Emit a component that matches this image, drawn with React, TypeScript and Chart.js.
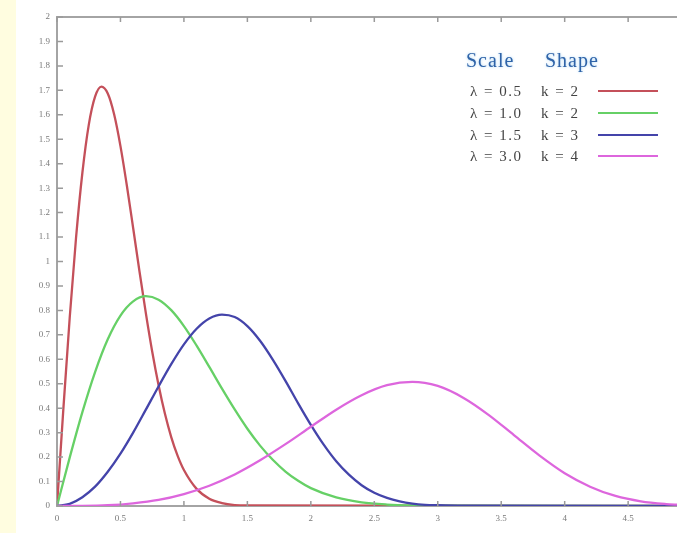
import React, { useEffect, useRef } from "react";
import { Chart, registerables } from "chart.js";

Chart.register(...registerables);

const X_TICKS = [0, 0.5, 1, 1.5, 2, 2.5, 3, 3.5, 4, 4.5];
const Y_TICKS = [0, 0.1, 0.2, 0.3, 0.4, 0.5, 0.6, 0.7, 0.8, 0.9, 1, 1.1, 1.2, 1.3, 1.4, 1.5, 1.6, 1.7, 1.8, 1.9, 2];

const RED_X = [0, 0.05, 0.1, 0.15, 0.2, 0.25, 0.3, 0.35, 0.4, 0.45, 0.5, 0.55, 0.6, 0.65, 0.7, 0.75, 0.8, 0.85, 0.9, 0.95, 1.0, 1.1, 1.2, 1.3, 1.4, 1.5, 4.9];
const RED_Y = [0, 0.396, 0.769, 1.097, 1.363, 1.558, 1.674, 1.715, 1.687, 1.602, 1.472, 1.312, 1.137, 0.959, 0.789, 0.632, 0.495, 0.378, 0.282, 0.206, 0.147, 0.07, 0.03, 0.012, 0.004, 0.002, 0];

const GREEN_X = [0, 0.1, 0.2, 0.3, 0.4, 0.5, 0.6, 0.7, 0.8, 0.9, 1.0, 1.1, 1.2, 1.3, 1.4, 1.5, 1.6, 1.7, 1.8, 1.9, 2.0, 2.2, 2.4, 2.6, 2.8, 3.0, 4.9];
const GREEN_Y = [0, 0.198, 0.384, 0.548, 0.682, 0.779, 0.837, 0.858, 0.844, 0.801, 0.736, 0.656, 0.569, 0.48, 0.395, 0.316, 0.247, 0.189, 0.141, 0.103, 0.073, 0.035, 0.015, 0.006, 0.002, 0.001, 0];

const BLUE_X = [0, 0.1, 0.2, 0.3, 0.4, 0.5, 0.6, 0.7, 0.8, 0.9, 1.0, 1.1, 1.2, 1.3, 1.4, 1.5, 1.6, 1.7, 1.8, 1.9, 2.0, 2.1, 2.2, 2.3, 2.4, 2.5, 2.6, 2.7, 2.8, 2.9, 3.0, 3.2, 4.9];
const BLUE_Y = [0, 0.009, 0.036, 0.079, 0.14, 0.214, 0.3, 0.394, 0.489, 0.58, 0.661, 0.725, 0.767, 0.783, 0.773, 0.736, 0.676, 0.599, 0.512, 0.42, 0.332, 0.252, 0.183, 0.128, 0.085, 0.054, 0.033, 0.019, 0.01, 0.005, 0.003, 0.001, 0];

const MAGENTA_X = [0, 0.2, 0.4, 0.6, 0.8, 1.0, 1.2, 1.4, 1.6, 1.8, 2.0, 2.2, 2.4, 2.6, 2.8, 3.0, 3.2, 3.4, 3.6, 3.8, 4.0, 4.2, 4.4, 4.6, 4.8, 4.9];
const MAGENTA_Y = [0, 0.0004, 0.003, 0.011, 0.025, 0.049, 0.083, 0.129, 0.187, 0.253, 0.324, 0.394, 0.453, 0.494, 0.508, 0.491, 0.443, 0.373, 0.29, 0.207, 0.134, 0.079, 0.041, 0.019, 0.008, 0.005];

const SCALES = ["λ = 0.5", "λ = 1.0", "λ = 1.5", "λ = 3.0"];
const SHAPES = ["k = 2", "k = 2", "k = 3", "k = 4"];
const COLORS = ["#c4505a", "#66d066", "#4444aa", "#dd66dd"];

const pts = (xs: number[], ys: number[]) => xs.map((x, i) => ({ x, y: ys[i] }));

const AXIS = "#a4a4a4";

const tickPlugin = {
  id: "inwardTicks",
  afterDraw(chart: any) {
    const { ctx, chartArea } = chart;
    const xs = chart.scales.x;
    const ys = chart.scales.y;
    ctx.save();
    ctx.strokeStyle = AXIS;
    ctx.lineWidth = 2;
    ctx.beginPath();
    ctx.moveTo(chartArea.left, chartArea.top);
    ctx.lineTo(chartArea.right, chartArea.top);
    ctx.stroke();
    ctx.strokeStyle = "#9a9a9a";
    ctx.lineWidth = 1.5;
    ctx.beginPath();
    for (const v of Y_TICKS) {
      const py = ys.getPixelForValue(v);
      ctx.moveTo(chartArea.left, py);
      ctx.lineTo(chartArea.left + 6, py);
    }
    for (const v of X_TICKS) {
      const px = xs.getPixelForValue(v);
      ctx.moveTo(px, chartArea.bottom);
      ctx.lineTo(px, chartArea.bottom - 5);
      ctx.moveTo(px, chartArea.top);
      ctx.lineTo(px, chartArea.top + 5);
    }
    ctx.stroke();
    ctx.restore();
  },
};

export default function App() {
  const ref = useRef<HTMLCanvasElement>(null);
  useEffect(() => {
    if (!ref.current) return;
    const series = [
      [RED_X, RED_Y],
      [GREEN_X, GREEN_Y],
      [BLUE_X, BLUE_Y],
      [MAGENTA_X, MAGENTA_Y],
    ];
    const chart = new Chart(ref.current, {
      type: "line",
      data: {
        datasets: series.map((s, i) => ({
          label: SCALES[i] + " " + SHAPES[i],
          data: pts(s[0], s[1]),
          borderColor: COLORS[i],
          borderWidth: 2.3,
          pointRadius: 0,
          cubicInterpolationMode: "monotone" as const,
          fill: false,
          order: 4 - i,
        })),
      },
      options: {
        animation: false,
        responsive: false,
        devicePixelRatio: 1,
        layout: { padding: { top: 17, left: 0, right: 0, bottom: 0 } },
        plugins: { legend: { display: false }, tooltip: { enabled: false } },
        scales: {
          x: {
            type: "linear",
            min: 0,
            max: 4.885,
            afterBuildTicks: (s: any) => {
              s.ticks = X_TICKS.map((v) => ({ value: v }));
            },
            afterFit: (s: any) => {
              s.height = 27;
            },
            ticks: {
              color: "#7a7a7a",
              font: { family: "Liberation Serif", size: 9 },
              padding: 7,
              maxRotation: 0,
              autoSkip: false,
              callback: (v: any) => String(Math.round(Number(v) * 10) / 10),
            },
            grid: { drawOnChartArea: false, drawTicks: false },
            border: { display: true, color: AXIS, width: 2 },
          },
          y: {
            type: "linear",
            min: 0,
            max: 2,
            afterBuildTicks: (s: any) => {
              s.ticks = Y_TICKS.map((v) => ({ value: v }));
            },
            afterFit: (s: any) => {
              s.width = 57;
            },
            ticks: {
              color: "#7a7a7a",
              font: { family: "Liberation Serif", size: 9 },
              padding: 7,
              autoSkip: false,
              callback: (v: any) => String(Math.round(Number(v) * 10) / 10),
            },
            grid: { drawOnChartArea: false, drawTicks: false },
            border: { display: true, color: AXIS, width: 2 },
          },
        },
      },
      plugins: [tickPlugin],
    });
    return () => chart.destroy();
  }, []);

  const rowCenters = [91, 113, 135, 156];
  return (
    <div
      style={{
        position: "fixed",
        left: 0,
        top: 0,
        width: 677,
        height: 533,
        overflow: "hidden",
        background: "linear-gradient(to right, #fffde0 0px, #fffde0 16px, #ffffff 16px)",
      }}
    >
      <canvas ref={ref} width={677} height={533} style={{ position: "absolute", left: 0, top: 0 }} />
      <div
        style={{
          position: "absolute",
          left: 466,
          top: 47,
          fontFamily: "Liberation Serif",
          fontSize: 20,
          letterSpacing: 1,
          color: "#2f63a8",
          textShadow: "0 0 3px #a8d4f4",
          whiteSpace: "pre",
          lineHeight: "26px",
        }}
      >
        <span style={{ position: "absolute", left: 0 }}>Scale</span>
        <span style={{ position: "absolute", left: 79 }}>Shape</span>
      </div>
      {SCALES.map((s, i) => (
        <React.Fragment key={i}>
          <div
            style={{
              position: "absolute",
              left: 470,
              top: rowCenters[i] - 11,
              height: 22,
              lineHeight: "22px",
              fontFamily: "Liberation Serif",
              fontSize: 15,
              letterSpacing: 1.5,
              color: "#444",
              whiteSpace: "pre",
            }}
          >
            {s}
          </div>
          <div
            style={{
              position: "absolute",
              left: 541,
              top: rowCenters[i] - 11,
              height: 22,
              lineHeight: "22px",
              fontFamily: "Liberation Serif",
              fontSize: 15,
              letterSpacing: 1.5,
              color: "#444",
              whiteSpace: "pre",
            }}
          >
            {SHAPES[i]}
          </div>
          <div
            style={{
              position: "absolute",
              left: 598,
              top: rowCenters[i] - 1,
              width: 60,
              height: 2,
              background: COLORS[i],
            }}
          />
        </React.Fragment>
      ))}
    </div>
  );
}
